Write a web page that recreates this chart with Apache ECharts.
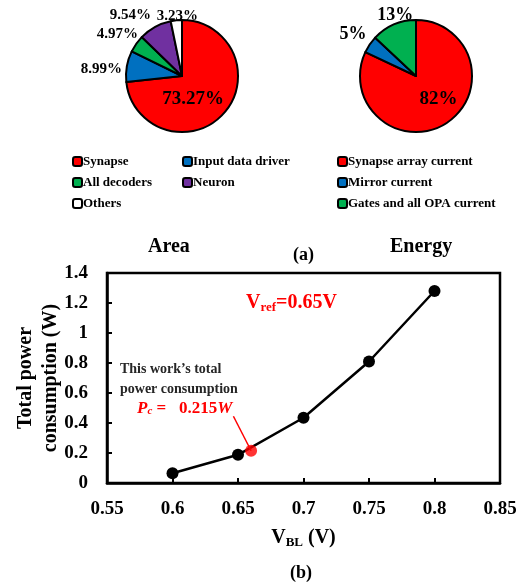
<!DOCTYPE html>
<html>
<head>
<meta charset="utf-8">
<script src="https://cdn.jsdelivr.net/npm/echarts@6/dist/echarts.min.js"></script>
<style>
  html, body { margin: 0; padding: 0; background: #fff; }
  #show_picture { width: 521px; height: 585px; }
</style>
</head>
<body>
<div id="show_picture"></div>
<script>
// pie (a) left: area breakdown
const areaNames = ['Synapse', 'Input data driver', 'All decoders', 'Neuron', 'Others'];
const areaValues = [73.27, 8.99, 4.97, 9.54, 3.23];
const areaColors = ['#ff0000', '#0070c0', '#00b050', '#7030a0', '#ffffff'];

// pie (a) right: energy breakdown
const energyNames = ['Synapse array current', 'Mirror current', 'Gates and all OPA current'];
const energyValues = [82, 5, 13];
const energyColors = ['#ff0000', '#0070c0', '#00b050'];

// line (b)
const vbl = [0.6, 0.65, 0.7, 0.75, 0.8];
const power = [0.065, 0.188, 0.435, 0.81, 1.28];
const thisWork = [0.66, 0.215];

const FONT = '"Liberation Serif", "Times New Roman", serif';

let myChart = echarts.init(document.getElementById('show_picture'));

function pieData(names, values, colors, outSize) {
    let d = [];
    for (let i = 0; i < names.length; i++) {
        d.push({
            value: values[i],
            name: names[i],
            itemStyle: { color: colors[i] },
            label: i === 0
                ? { position: 'inside', fontSize: 19, formatter: '{c}%' }
                : { position: 'outside', fontSize: outSize, formatter: '{c}%' }
        });
    }
    return d;
}

// small nudges so the outside labels sit where the paper has them
const areaNudge = [[-12, 2], [8, 3], [14, -7], [7, -8], [31, 0]];
const energyNudge = [[6, -3], [9, -8], [30, -6]];

function legendCol(left, top, data) {
    return {
        orient: 'vertical',
        left: left,
        top: top,
        padding: 0,
        itemWidth: 9,
        itemHeight: 9,
        itemGap: 8,
        icon: 'roundRect',
        selectedMode: false,
        itemStyle: { borderColor: '#000', borderWidth: 2 },
        textStyle: { fontFamily: FONT, fontWeight: 'bold', fontSize: 13, color: '#000', padding: [0, 0, 0, -4] },
        data: data
    };
}

const boldText = { fontFamily: FONT, fontWeight: 'bold', fill: '#000' };

let option = {
    animation: false,
    backgroundColor: '#fff',
    textStyle: { fontFamily: FONT },
    legend: [
        legendCol(72, 155, ['Synapse', 'All decoders', 'Others']),
        legendCol(182, 155, ['Input data driver', 'Neuron']),
        legendCol(337, 155, energyNames)
    ],
    grid: {
        left: 107, right: 21, top: 273, bottom: 102,
        outerBoundsMode: 'none',
        show: true, borderColor: '#000', borderWidth: 2.5
    },
    xAxis: {
        type: 'value',
        min: 0.55, max: 0.85, interval: 0.05,
        name: '{a|V}{s|BL}{a| (V)}',
        nameLocation: 'middle',
        nameGap: 44,
        nameTextStyle: {
            rich: {
                a: { fontFamily: FONT, fontWeight: 'bold', fontSize: 20, color: '#000' },
                s: { fontFamily: FONT, fontWeight: 'bold', fontSize: 13, color: '#000', padding: [9, 0, 0, 0] }
            }
        },
        axisLine: { lineStyle: { color: '#000', width: 2.5 } },
        axisTick: { inside: true, length: 5, lineStyle: { color: '#000', width: 2 } },
        axisLabel: {
            fontFamily: FONT, fontWeight: 'bold', fontSize: 19, color: '#000', margin: 17,
            formatter: v => String(+v.toFixed(2))
        },
        splitLine: { show: false }
    },
    yAxis: {
        type: 'value',
        min: 0, max: 1.4, interval: 0.2,
        name: 'Total power\nconsumption (W)',
        nameLocation: 'middle',
        nameGap: 44,
        nameMoveOverlap: false,
        nameTextStyle: { fontFamily: FONT, fontWeight: 'bold', fontSize: 20, color: '#000', lineHeight: 25 },
        axisLine: { lineStyle: { color: '#000', width: 2.5 } },
        axisTick: { inside: true, length: 5, lineStyle: { color: '#000', width: 2 } },
        axisLabel: {
            fontFamily: FONT, fontWeight: 'bold', fontSize: 19, color: '#000', margin: 19,
            formatter: v => String(+v.toFixed(1))
        },
        splitLine: { show: false }
    },
    series: [
        {
            name: 'Area',
            type: 'pie',
            center: [182, 76],
            radius: 56,
            startAngle: 90,
            clockwise: true,
            avoidLabelOverlap: false,
            itemStyle: { borderColor: '#000', borderWidth: 2 },
            label: { show: true, color: '#000', fontFamily: FONT, fontWeight: 'bold' },
            labelLine: { show: false, length: 4, length2: 4 },
            labelLayout: p => ({ dx: areaNudge[p.dataIndex][0], dy: areaNudge[p.dataIndex][1] }),
            emphasis: { disabled: true },
            data: pieData(areaNames, areaValues, areaColors, 15)
        },
        {
            name: 'Energy',
            type: 'pie',
            center: [416, 76],
            radius: 56,
            startAngle: 90,
            clockwise: true,
            avoidLabelOverlap: false,
            itemStyle: { borderColor: '#000', borderWidth: 2 },
            label: { show: true, color: '#000', fontFamily: FONT, fontWeight: 'bold' },
            labelLine: { show: false, length: 4, length2: 4 },
            labelLayout: p => ({ dx: energyNudge[p.dataIndex][0], dy: energyNudge[p.dataIndex][1] }),
            emphasis: { disabled: true },
            data: pieData(energyNames, energyValues, energyColors, 18)
        },
        {
            name: 'Power',
            type: 'line',
            data: vbl.map((x, i) => [x, power[i]]),
            symbol: 'circle',
            symbolSize: 12,
            itemStyle: { color: '#000' },
            lineStyle: { color: '#000', width: 2.5 },
            z: 3,
            markLine: {
                silent: true,
                symbol: 'none',
                label: { show: false },
                lineStyle: { color: '#ff0000', width: 1.5, type: 'solid' },
                data: [[{ coord: [0.6465, 0.445] }, { coord: thisWork }]]
            }
        },
        {
            name: 'This work',
            type: 'scatter',
            data: [thisWork],
            symbolSize: 12,
            itemStyle: { color: '#ff0000' },
            z: 5
        }
    ],
    graphic: [
        { type: 'text', left: 148, top: 237, style: Object.assign({ text: 'Area', fontSize: 20 }, boldText) },
        { type: 'text', left: 390, top: 237, style: Object.assign({ text: 'Energy', fontSize: 20 }, boldText) },
        { type: 'text', left: 293, top: 246, style: Object.assign({ text: '(a)', fontSize: 18 }, boldText) },
        { type: 'text', left: 290, top: 564, style: Object.assign({ text: '(b)', fontSize: 18 }, boldText) },
        {
            type: 'text', left: 246, top: 293,
            style: {
                text: '{a|V}{s|ref}{a|=0.65V}',
                rich: {
                    a: { fontFamily: FONT, fontWeight: 'bold', fontSize: 20, fill: '#ff0000' },
                    s: { fontFamily: FONT, fontWeight: 'bold', fontSize: 13, fill: '#ff0000', padding: [9, 0, 0, 0] }
                }
            }
        },
        {
            type: 'text', left: 120, top: 359,
            style: { text: 'This work\u2019s total\npower consumption', fontFamily: FONT, fontWeight: 'bold', fontSize: 14, lineHeight: 20, fill: '#262626' }
        },
        {
            type: 'text', left: 137, top: 400,
            style: {
                text: '{p|P}{c|c}{e| =   0.215}{p|W}',
                rich: {
                    p: { fontFamily: FONT, fontWeight: 'bold', fontStyle: 'italic', fontSize: 17, fill: '#ff0000' },
                    c: { fontFamily: FONT, fontWeight: 'bold', fontStyle: 'italic', fontSize: 11, fill: '#ff0000', padding: [6, 0, 0, 0] },
                    e: { fontFamily: FONT, fontWeight: 'bold', fontSize: 17, fill: '#ff0000' }
                }
            }
        }
    ]
};

option && myChart.setOption(option);
</script>
</body>
</html>
